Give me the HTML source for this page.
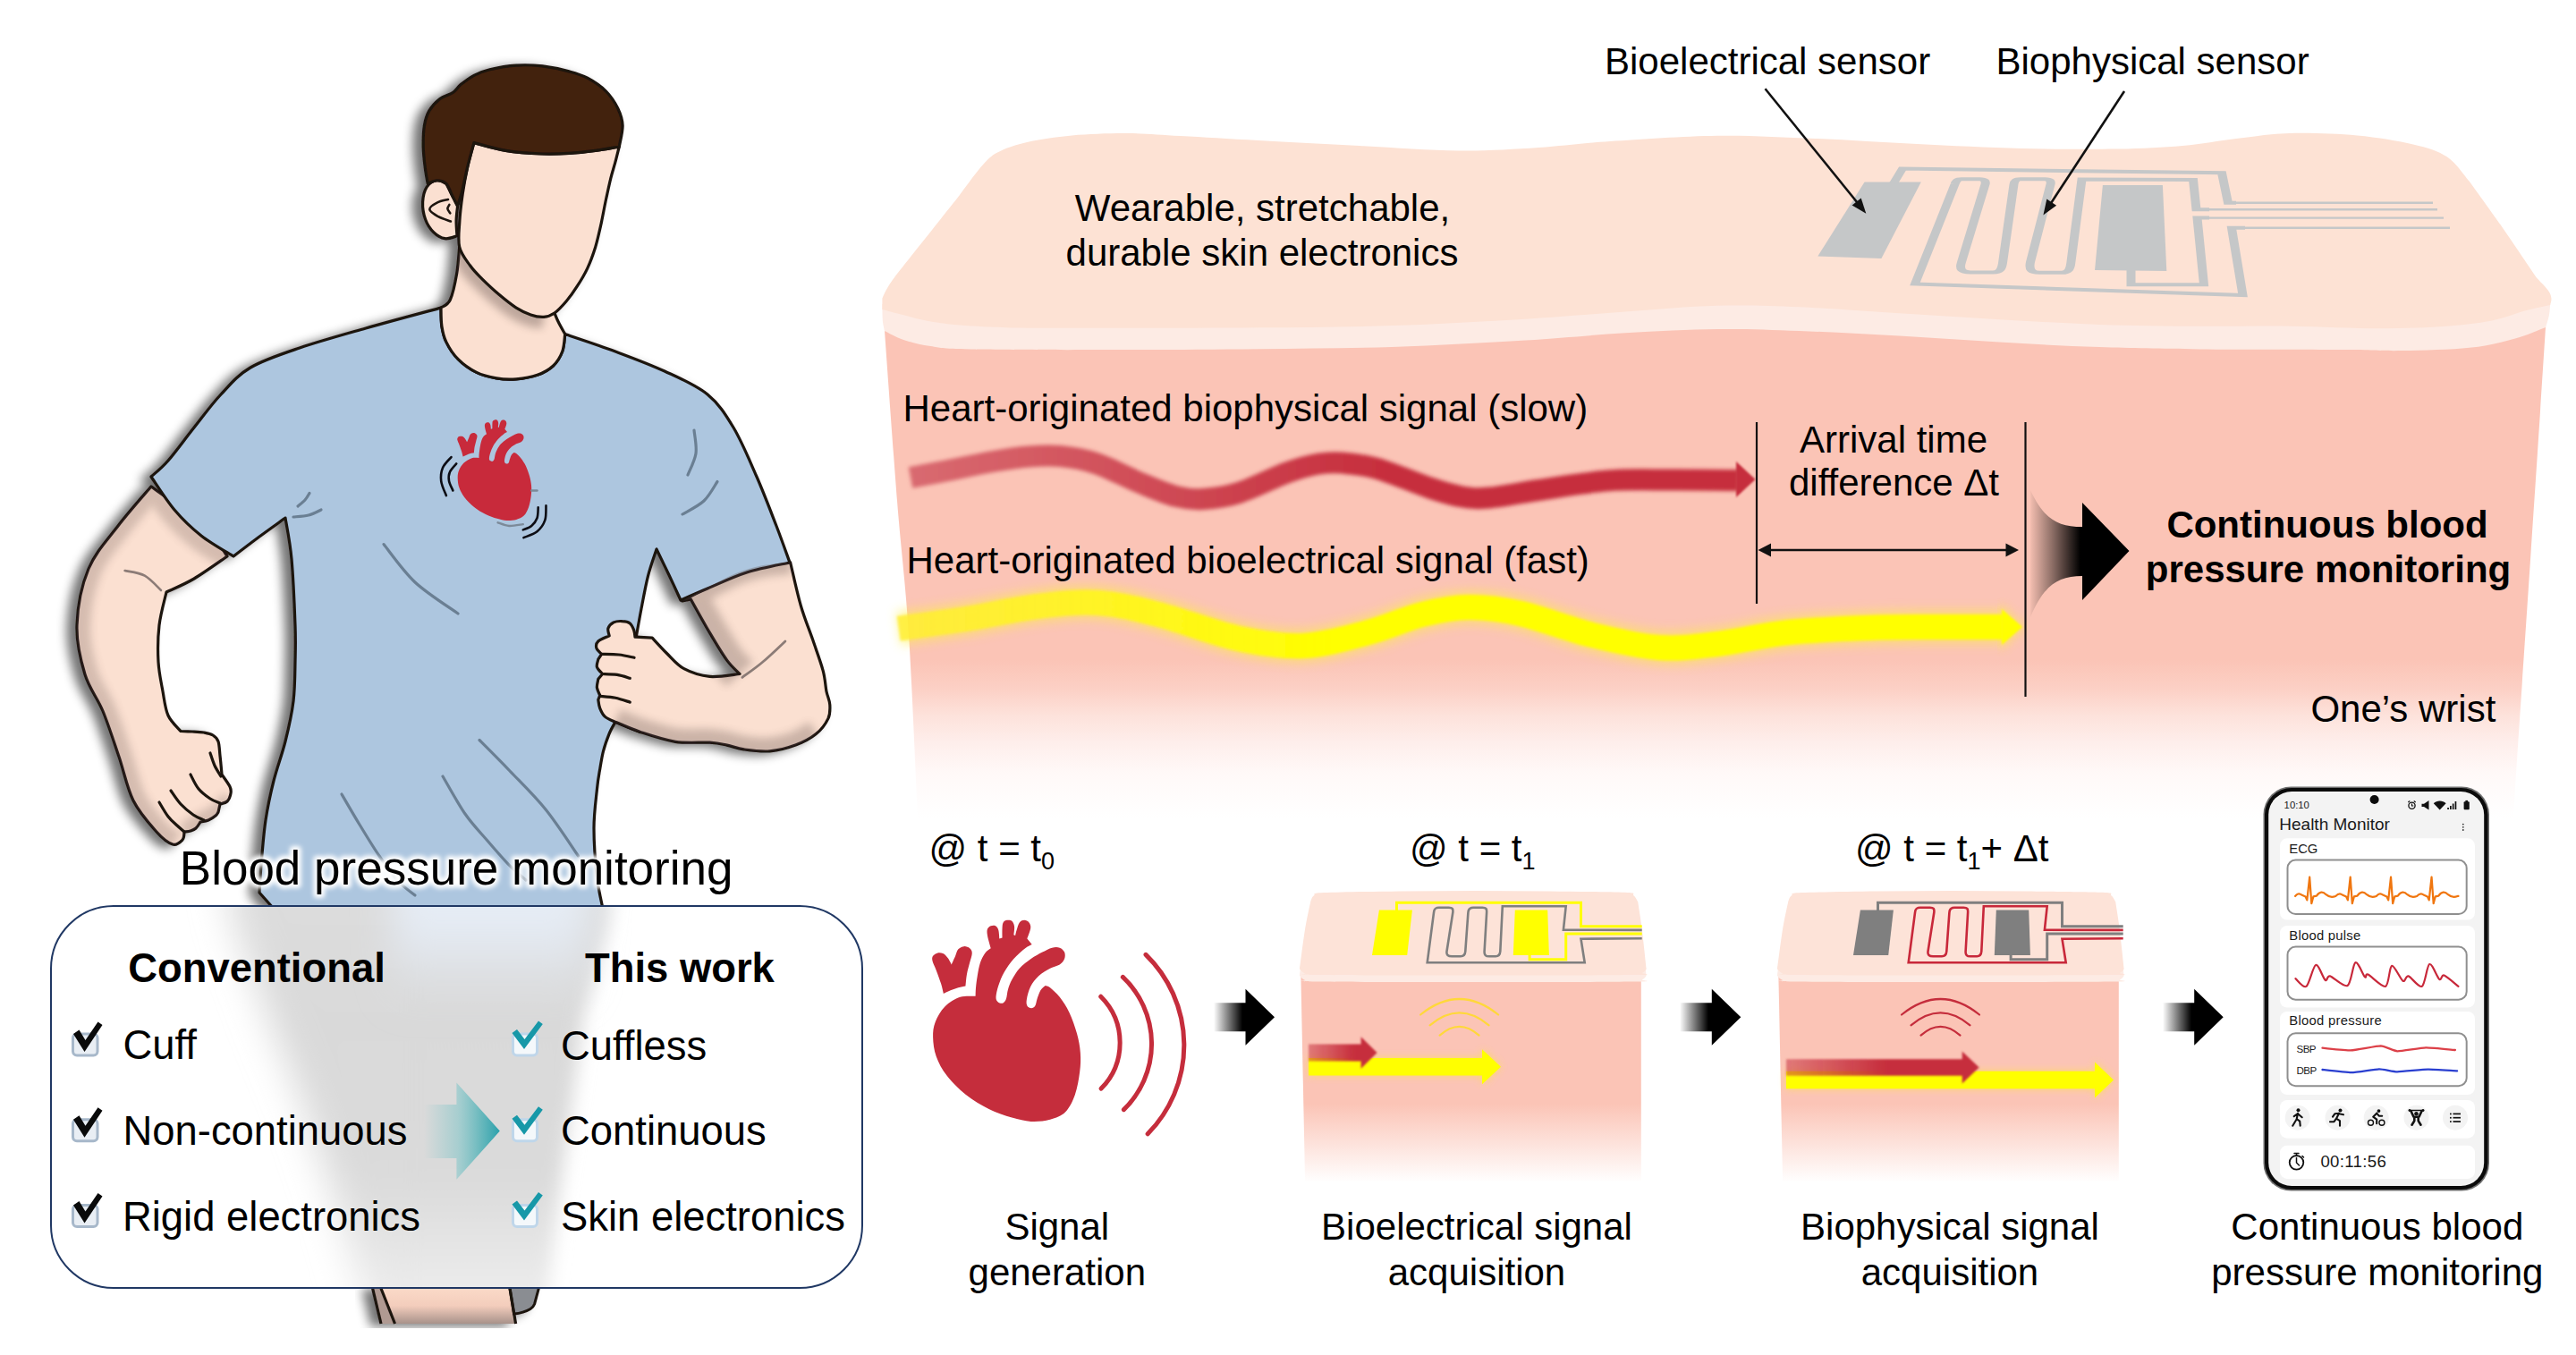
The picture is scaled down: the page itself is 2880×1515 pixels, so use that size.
<!DOCTYPE html>
<html><head><meta charset="utf-8"><title>Continuous blood pressure monitoring</title>
<style>html,body{margin:0;padding:0;background:#fff;overflow:hidden}svg{display:block}text{white-space:pre}</style></head><body>
<svg width="2880" height="1515" viewBox="0 0 2880 1515">
<defs>
<linearGradient id="pinkg" gradientUnits="userSpaceOnUse" x1="0" y1="370" x2="0" y2="915">
<stop offset="0" stop-color="#fbc4b6"/><stop offset="0.675" stop-color="#fbc4b6"/><stop offset="0.734" stop-color="#fcd0c5"/><stop offset="0.789" stop-color="#fde2db"/><stop offset="0.844" stop-color="#feeeeb"/><stop offset="0.908" stop-color="#fff9f8"/><stop offset="1" stop-color="#ffffff"/></linearGradient>
<linearGradient id="mpink" gradientUnits="userSpaceOnUse" x1="0" y1="1091" x2="0" y2="1322">
<stop offset="0" stop-color="#fbc4b6"/><stop offset="0.62" stop-color="#fbc4b6"/><stop offset="1" stop-color="#ffffff"/></linearGradient>
<linearGradient id="redg" gradientUnits="userSpaceOnUse" x1="1018" y1="0" x2="1560" y2="0">
<stop offset="0" stop-color="#d96a70"/><stop offset="1" stop-color="#c62d3c"/></linearGradient>
<linearGradient id="yelg" gradientUnits="userSpaceOnUse" x1="1004" y1="0" x2="1500" y2="0"><stop offset="0" stop-color="#ffee33" stop-opacity="0.85"/><stop offset="1" stop-color="#ffff00"/></linearGradient>
<linearGradient id="blk1" gradientUnits="userSpaceOnUse" x1="2268" y1="0" x2="2336" y2="0">
<stop offset="0" stop-color="#000" stop-opacity="0"/><stop offset="0.4" stop-color="#000" stop-opacity="0.45"/><stop offset="0.85" stop-color="#000" stop-opacity="1"/></linearGradient>
<linearGradient id="ba1" gradientUnits="userSpaceOnUse" x1="1357" y1="0" x2="1389" y2="0"><stop offset="0" stop-color="#000" stop-opacity="0"/><stop offset="1" stop-color="#000"/></linearGradient>
<linearGradient id="ba2" gradientUnits="userSpaceOnUse" x1="1878" y1="0" x2="1910" y2="0"><stop offset="0" stop-color="#000" stop-opacity="0"/><stop offset="1" stop-color="#000"/></linearGradient>
<linearGradient id="ba3" gradientUnits="userSpaceOnUse" x1="2418" y1="0" x2="2450" y2="0"><stop offset="0" stop-color="#000" stop-opacity="0"/><stop offset="1" stop-color="#000"/></linearGradient>
<linearGradient id="mred1" gradientUnits="userSpaceOnUse" x1="1463" y1="0" x2="1515" y2="0"><stop offset="0" stop-color="#c62d3c" stop-opacity="0.5"/><stop offset="1" stop-color="#c62d3c"/></linearGradient>
<linearGradient id="mred2" gradientUnits="userSpaceOnUse" x1="1997" y1="0" x2="2110" y2="0"><stop offset="0" stop-color="#c62d3c" stop-opacity="0.5"/><stop offset="1" stop-color="#c62d3c"/></linearGradient>
<linearGradient id="legg" gradientUnits="userSpaceOnUse" x1="0" y1="1440" x2="0" y2="1480"><stop offset="0" stop-color="#fbdac8"/><stop offset="0.5" stop-color="#f3cdbc"/><stop offset="1" stop-color="#a8928a"/></linearGradient>
<linearGradient id="teal" gradientUnits="userSpaceOnUse" x1="474" y1="0" x2="559" y2="0"><stop offset="0" stop-color="#5bbcc0" stop-opacity="0"/><stop offset="0.45" stop-color="#5bbcc0" stop-opacity="0.4"/><stop offset="0.75" stop-color="#43adb3" stop-opacity="0.75"/><stop offset="1" stop-color="#2aa0ab" stop-opacity="1"/></linearGradient>
<linearGradient id="silg" gradientUnits="userSpaceOnUse" x1="0" y1="1013" x2="0" y2="1440"><stop offset="0" stop-color="#dcdcdc"/><stop offset="0.27" stop-color="#d9d9d9"/><stop offset="0.7" stop-color="#dadada"/><stop offset="1" stop-color="#ebebeb"/></linearGradient>
<linearGradient id="tintg" gradientUnits="userSpaceOnUse" x1="0" y1="1013" x2="0" y2="1125"><stop offset="0" stop-color="#e6edf6" stop-opacity="1"/><stop offset="0.35" stop-color="#e4eaf2" stop-opacity="0.9"/><stop offset="1" stop-color="#dfe3e8" stop-opacity="0"/></linearGradient>
<filter id="b05" x="-10%" y="-100%" width="120%" height="300%"><feGaussianBlur stdDeviation="0.5"/></filter>
<filter id="b1" x="-10%" y="-100%" width="120%" height="300%"><feGaussianBlur stdDeviation="1"/></filter>
<filter id="b15" x="-5%" y="-100%" width="110%" height="300%"><feGaussianBlur stdDeviation="1.5"/></filter>
<filter id="b2" x="-5%" y="-100%" width="110%" height="300%"><feGaussianBlur stdDeviation="2.2"/></filter>
<filter id="b4" x="-20%" y="-100%" width="140%" height="300%"><feGaussianBlur stdDeviation="4"/></filter>
<filter id="b6" x="-10%" y="-100%" width="120%" height="300%"><feGaussianBlur stdDeviation="6"/></filter>
<filter id="b10" x="-50%" y="-50%" width="200%" height="200%"><feGaussianBlur stdDeviation="10"/></filter>
<filter id="b20" x="-50%" y="-50%" width="200%" height="200%"><feGaussianBlur stdDeviation="21"/></filter>
<filter id="sh5" filterUnits="userSpaceOnUse" x="0" y="0" width="1100" height="1100"><feGaussianBlur stdDeviation="5"/></filter>
<filter id="glow" x="-10%" y="-50%" width="120%" height="200%"><feGaussianBlur stdDeviation="2.4"/></filter>
<filter id="mansh" x="-10%" y="-10%" width="120%" height="120%"><feGaussianBlur in="SourceAlpha" stdDeviation="6" result="b"/><feOffset in="b" dx="-10" dy="3" result="o"/><feComponentTransfer in="o" result="s"><feFuncA type="linear" slope="0.55"/></feComponentTransfer><feMerge><feMergeNode in="s"/><feMergeNode in="SourceGraphic"/></feMerge></filter>
<clipPath id="boxclip"><rect x="57" y="1013" width="907" height="427" rx="70"/></clipPath>
<clipPath id="abovebox"><rect x="0" y="0" width="1000" height="1014"/></clipPath>
<clipPath id="belowbox"><rect x="0" y="1440" width="1000" height="80"/></clipPath>
</defs>
<rect width="2880" height="1515" fill="#fff"/>
<g id="skin">
<path d="M988.9,368.5C992.5,370.2 1001.6,375.6 1010.2,378.5C1018.8,381.4 1027.8,383.8 1040.3,385.6C1052.8,387.4 1049.2,388.4 1085.5,389.1C1121.8,389.8 1204.4,389.7 1258,389.6C1311.6,389.5 1357.3,389.2 1407,388.7C1456.7,388.2 1506.2,388.1 1556,386.5C1605.8,384.9 1662,381.6 1705.5,379C1749,376.4 1781.2,372.9 1817,370.8C1852.8,368.7 1887.5,366.9 1920,366.5C1952.5,366.1 1977.9,367.2 2011.8,368.5C2045.7,369.8 2086.3,372 2123.6,374.1C2160.9,376.2 2198.1,379 2235.4,381.1C2272.7,383.2 2309.9,385.3 2347.2,386.6C2384.5,387.9 2413.5,388.4 2459,388.9C2504.5,389.4 2582.2,389.3 2620,389.6C2657.8,389.9 2662,391 2685.5,390.6C2709,390.2 2739.9,389.5 2760.8,387.3C2781.7,385.1 2796.8,381.1 2811,377.3C2825.2,373.5 2840.2,366.8 2846.1,364.7L2846.1,364.7C2845.1,380.6 2842.8,416.4 2840,460C2837.2,503.6 2833.3,561 2829,626C2824.7,691 2817.2,801.8 2814,850C2810.8,898.2 2810.7,904.2 2810,915L2810,915L1026,915L1026,915C1024.3,880.7 1019.8,768.2 1016,709C1012.2,649.8 1007.5,616.8 1003,560C998.5,503.2 991.2,400.4 988.9,368.5Z" fill="url(#pinkg)"/>
<path d="M986.4,340C986.4,341 986.3,342.6 986.4,345.9C986.5,349.2 986.6,356 987,360C987.4,364 988.6,368.3 988.9,370L988.9,370C992.5,371.7 1001.6,377.1 1010.2,380C1018.8,382.9 1027.8,385.3 1040.3,387.1C1052.8,388.9 1049.2,389.9 1085.5,390.6C1121.8,391.3 1204.4,391.2 1258,391.1C1311.6,391 1357.3,390.7 1407,390.2C1456.7,389.7 1506.2,389.6 1556,388C1605.8,386.4 1662,383.1 1705.5,380.5C1749,377.9 1781.2,374.4 1817,372.3C1852.8,370.2 1887.5,368.4 1920,368C1952.5,367.6 1977.9,368.7 2011.8,370C2045.7,371.3 2086.3,373.5 2123.6,375.6C2160.9,377.7 2198.1,380.5 2235.4,382.6C2272.7,384.7 2309.9,386.8 2347.2,388.1C2384.5,389.4 2413.5,389.9 2459,390.4C2504.5,390.9 2582.2,390.8 2620,391.1C2657.8,391.4 2662,392.5 2685.5,392.1C2709,391.7 2739.9,391 2760.8,388.8C2781.7,386.6 2796.8,382.6 2811,378.8C2825.2,375 2840.2,368.1 2846.1,366L2846.1,366C2846.8,363.7 2849.2,356.3 2850,352C2850.8,347.7 2851,342 2851.2,340L2851.2,340L986.4,340Z" fill="#fdebe4"/>
<path d="M986.4,345.9L986.4,333.4L986.4,333.4C988.3,330 989.6,324.6 997.7,313.3C1005.9,302 1022.8,281.5 1035.3,265.6C1047.8,249.7 1066.7,225.9 1073,217.9L1073,217.9C1077.2,212.5 1090.9,193.2 1098,185.3C1105.1,177.4 1107.2,174.6 1115.6,170.2C1124,165.8 1134.5,162 1148.3,158.9C1162.1,155.8 1179.9,153.1 1198.5,151.4C1217.1,149.8 1239.8,148.9 1260,149C1280.2,149.1 1295.5,150.7 1320,152C1344.5,153.3 1373.7,155.2 1407,157C1440.3,158.8 1482.7,161.1 1520,163C1557.3,164.9 1597.7,168.2 1631,168.5C1664.3,168.8 1691.8,166.8 1720,165C1748.2,163.2 1766.7,160.2 1800,158C1833.3,155.8 1881.7,152.2 1920,151.7C1958.3,151.2 1992.7,153.4 2030,155C2067.3,156.6 2105.3,159.2 2143.6,161C2181.9,162.8 2222.8,165.1 2260,166C2297.2,166.9 2337,167.1 2367,166.6C2397,166.1 2417.8,164.9 2440,163C2462.2,161.1 2480,157.3 2500,155C2520,152.7 2537.4,149.5 2560,148.9C2582.6,148.3 2612.3,149.3 2635.3,151.4C2658.3,153.5 2681.3,157.4 2698,161.4C2714.7,165.4 2725.2,168.3 2735.7,175.2C2746.2,182.1 2756.6,198.2 2760.8,202.8L2760.8,202.8C2767.1,211.6 2785.9,237.5 2798.5,255.5C2811.1,273.5 2829.8,301.6 2836.1,310.8L2836.1,310.8C2838.2,313.1 2846,320.8 2848.7,324.6C2851.4,328.4 2852,330.7 2852.4,333.4C2852.8,336.1 2851.4,339.6 2851.2,340.9L2851.2,340.9C2846.6,341.9 2834.5,344.3 2823.6,347.2C2812.7,350.1 2800.6,355.6 2785.9,358.5C2771.2,361.4 2756.6,363.2 2735.7,364.7C2714.8,366.1 2689.7,367.2 2660.4,367.2C2631.1,367.2 2593.6,365.1 2560,364.7C2526.4,364.3 2494.5,365.1 2459,364.8C2423.5,364.5 2384.5,364.1 2347.2,362.9C2309.9,361.6 2272.7,359.4 2235.4,357.3C2198.1,355.2 2160.9,352.6 2123.6,350.3C2086.3,348 2045.7,344.7 2011.8,343.3C1977.9,341.9 1952.5,340.9 1920,341.8C1887.5,342.7 1852.8,346 1817,348.5C1781.2,351 1749,354.1 1705.5,356.7C1662,359.3 1605.8,362.5 1556,364.1C1506.2,365.7 1456.7,365.9 1407,366.3C1357.3,366.8 1303.2,366.8 1258,366.8C1212.8,366.8 1166.5,367.1 1135.7,366.5C1104.9,365.9 1089.7,364.8 1073,363.5C1056.3,362.2 1045.8,360.4 1035.3,358.5C1024.8,356.6 1018.4,354.3 1010.2,352.2C1002.1,350.1 990.4,346.9 986.4,345.9Z" fill="#fde2d4"/>
<g transform="scale(1,0.4)"><path d="M2084.6,508.8L2147.8,508.8L2103.4,722.2L2032.3,716.2Z" fill="#c5c7c8"/>
<path d="M2350.9,517.8L2417.9,517.8L2422.3,757.5L2342,755Z" fill="#c5c7c8"/>
<path d="M2117,512.5L2127,471.5L2484,483.2L2491,567L2500,567" fill="none" stroke="#c5c7c8" stroke-width="10" stroke-linejoin="miter" stroke-miterlimit="6"/>
<path d="M2496,567L2720,567" fill="none" stroke="#c5c7c8" stroke-width="6" stroke-linejoin="miter" stroke-miterlimit="6"/>
<path d="M2382.5,750L2382.5,795.5L2464,795.5L2456.5,609L2470,609" fill="none" stroke="#c5c7c8" stroke-width="10" stroke-linejoin="miter" stroke-miterlimit="6"/>
<path d="M2466,609L2732,609" fill="none" stroke="#c5c7c8" stroke-width="6" stroke-linejoin="miter" stroke-miterlimit="6"/>
<path d="M2506,637L2739,637" fill="none" stroke="#c5c7c8" stroke-width="6" stroke-linejoin="miter" stroke-miterlimit="6"/>
<path d="M2466,585.8L2725,585.8" fill="none" stroke="#c5c7c8" stroke-width="6" stroke-linejoin="miter" stroke-miterlimit="6"/>
<path d="M2510,637L2495,637L2507.5,825L2141,793.8L2185.5,515C2187,503.8 2189,500.8 2193,500.8L2213,500.8C2218.5,500.8 2220.5,505 2219.5,515L2193,732.5C2190,755 2194,761.2 2203,761.2L2228,761.2C2236,761.2 2238,752.5 2239,735L2251.5,515C2252.3,503.8 2254.5,500.8 2259,500.8L2286,500.8C2291.5,500.8 2293.5,505 2292.5,515L2270,732.5C2268,755 2271.5,762 2280,762L2305,762C2312.5,762 2314.5,752.5 2315.3,735L2327.5,501.5L2452,502.5L2455.5,585.8L2470,585.8" fill="none" stroke="#c5c7c8" stroke-width="10" stroke-linejoin="miter" stroke-miterlimit="6"/></g>
<path d="M1018,534C1025,532.7 1044.7,529 1060,526C1075.3,523 1095,518.6 1110,516C1125,513.4 1137.5,511.5 1150,510.5C1162.5,509.5 1172.5,508.8 1185,510C1197.5,511.2 1210,513 1225,518C1240,523 1260,533.8 1275,540C1290,546.2 1303.3,552 1315,555C1326.7,558 1333.3,558.7 1345,558C1356.7,557.3 1369.2,556 1385,551C1400.8,546 1425,533.4 1440,528C1455,522.6 1465,520.2 1475,518.5C1485,516.8 1489.2,516.6 1500,517.5C1510.8,518.4 1523.3,519.2 1540,524C1556.7,528.8 1584.2,540.8 1600,546C1615.8,551.2 1624.2,553.8 1635,555.5C1645.8,557.2 1650.8,557.8 1665,556.5C1679.2,555.2 1697.8,551.2 1720,548C1742.2,544.8 1773,539.3 1798,537.4C1823,535.5 1845.7,536.6 1870,536.5C1894.3,536.4 1931.7,536.9 1944,537" fill="none" stroke="url(#redg)" stroke-width="24" stroke-linejoin="round" filter="url(#b2)"/>
<path d="M1941,516L1962.5,536L1941,556Z" fill="#c62d3c" filter="url(#b1)"/>
<path d="M1004.7,702.6C1017.2,700.8 1054.1,696.1 1080,692C1105.9,687.9 1135.3,681 1160,678C1184.7,675 1205.5,672.5 1228,674C1250.5,675.5 1268.8,680.3 1295,687C1321.2,693.7 1357.8,708.2 1385,714C1412.2,719.8 1433.8,723.2 1458,722C1482.2,720.8 1508,712.8 1530,707C1552,701.2 1571.3,691.7 1590,687C1608.7,682.3 1623.7,679.2 1642,679C1660.3,678.8 1677,680.8 1700,686C1723,691.2 1754.2,703.7 1780,710C1805.8,716.3 1831.2,722.3 1854.5,724C1877.8,725.7 1895.8,722.8 1920,720C1944.2,717.2 1970,710.1 2000,707C2030,703.9 2070,702.5 2100,701.5C2130,700.5 2156.7,701.1 2180,701C2203.3,700.9 2230,701 2240,701" fill="none" stroke="#ffef40" stroke-width="38" opacity="0.5" filter="url(#b6)"/>
<path d="M2236,676L2264,701L2236,726Z" fill="#ffef40" opacity="0.6" filter="url(#b6)"/>
<path d="M1004.7,702.6C1017.2,700.8 1054.1,696.1 1080,692C1105.9,687.9 1135.3,681 1160,678C1184.7,675 1205.5,672.5 1228,674C1250.5,675.5 1268.8,680.3 1295,687C1321.2,693.7 1357.8,708.2 1385,714C1412.2,719.8 1433.8,723.2 1458,722C1482.2,720.8 1508,712.8 1530,707C1552,701.2 1571.3,691.7 1590,687C1608.7,682.3 1623.7,679.2 1642,679C1660.3,678.8 1677,680.8 1700,686C1723,691.2 1754.2,703.7 1780,710C1805.8,716.3 1831.2,722.3 1854.5,724C1877.8,725.7 1895.8,722.8 1920,720C1944.2,717.2 1970,710.1 2000,707C2030,703.9 2070,702.5 2100,701.5C2130,700.5 2156.7,701.1 2180,701C2203.3,700.9 2230,701 2240,701" fill="none" stroke="url(#yelg)" stroke-width="28" filter="url(#b15)"/>
<path d="M2238,681L2261,701L2238,721Z" fill="#ffff00" filter="url(#b1)"/>
<path d="M1964,472V675" stroke="#111" stroke-width="2.2"/>
<path d="M2264.5,472V779" stroke="#111" stroke-width="2.2"/>
<path d="M1975,615H2247" stroke="#111" stroke-width="2.4"/>
<path d="M1965.5,615L1980,607.5V622.5Z" fill="#111"/>
<path d="M2257,615L2242.5,607.5V622.5Z" fill="#111"/>
<path d="M2270,548C2285,580 2300,589 2328,589L2328,562L2380.5,616L2328,671L2328,644C2300,644 2285,655 2270,690Z" fill="url(#blk1)"/>
<path d="M1973.5,99.3L2076.9,227" stroke="#111" stroke-width="2.6"/><path d="M2086.3,238.7L2070.6,229.6L2080.7,221.4Z" fill="#111"/>
<path d="M2375,102L2292.6,227.8" stroke="#111" stroke-width="2.6"/><path d="M2284.4,240.4L2288.3,222.6L2299.1,229.7Z" fill="#111"/>
</g>
<g clip-path="url(#abovebox)"><g filter="url(#mansh)">
<path d="M254,622C250,616.7 244.2,603 230,590C215.8,577 179.2,551.7 169,544L169,544C162.8,551.3 143.7,572.7 132,588C120.3,603.3 106.7,617.5 99,636C91.3,654.5 86.7,679.3 86,699C85.3,718.7 90.2,738 95,754C99.8,770 108.7,779.7 115,795C121.3,810.3 127.3,829.3 133,846C138.7,862.7 142,881 149,895C156,909 167.7,921.8 175,930C182.3,938.2 188.2,942.5 193,944C197.8,945.5 201.8,941.3 204,939C206.2,936.7 205.7,931.5 206,930L206,930C207.2,929.8 210.8,929.7 213,929C215.2,928.3 217.2,927.7 219,926C220.8,924.3 223.2,920.2 224,919L224,919C225.5,918.7 230.2,918.2 233,917C235.8,915.8 239.2,913.5 241,912C242.8,910.5 243.5,908.7 244,908L244,908L246,899L246,899C247.3,898.5 252,898 254,896C256,894 257.5,889.8 258,887C258.5,884.2 258.7,883 257,879.5C255.3,876 249.5,868.2 248,866L248,866C247.7,862.5 246.7,851.2 246,845C245.3,838.8 245.3,832.8 244,829C242.7,825.2 240.7,823.7 238,822C235.3,820.3 231.8,819.7 228,819C224.2,818.3 219.3,818.2 215,818C210.7,817.8 204.2,817.6 202,817.5L202,817.5C199.7,814.6 191.3,807.4 188,800C184.7,792.6 183.8,783 182,773C180.2,763 177.7,752.3 177,740C176.3,727.7 176.5,712 178,699C179.5,686 184.7,668.2 186,662L186,662C191.2,659.5 205.7,653.7 217,647C228.3,640.3 247.8,626.2 254,622Z" fill="#fbe0d1" stroke="#1c1210" stroke-width="3.2" stroke-linejoin="round"/>
<clipPath id="clipLarm"><path d="M254,622C250,616.7 244.2,603 230,590C215.8,577 179.2,551.7 169,544L169,544C162.8,551.3 143.7,572.7 132,588C120.3,603.3 106.7,617.5 99,636C91.3,654.5 86.7,679.3 86,699C85.3,718.7 90.2,738 95,754C99.8,770 108.7,779.7 115,795C121.3,810.3 127.3,829.3 133,846C138.7,862.7 142,881 149,895C156,909 167.7,921.8 175,930C182.3,938.2 188.2,942.5 193,944C197.8,945.5 201.8,941.3 204,939C206.2,936.7 205.7,931.5 206,930L206,930C207.2,929.8 210.8,929.7 213,929C215.2,928.3 217.2,927.7 219,926C220.8,924.3 223.2,920.2 224,919L224,919C225.5,918.7 230.2,918.2 233,917C235.8,915.8 239.2,913.5 241,912C242.8,910.5 243.5,908.7 244,908L244,908L246,899L246,899C247.3,898.5 252,898 254,896C256,894 257.5,889.8 258,887C258.5,884.2 258.7,883 257,879.5C255.3,876 249.5,868.2 248,866L248,866C247.7,862.5 246.7,851.2 246,845C245.3,838.8 245.3,832.8 244,829C242.7,825.2 240.7,823.7 238,822C235.3,820.3 231.8,819.7 228,819C224.2,818.3 219.3,818.2 215,818C210.7,817.8 204.2,817.6 202,817.5L202,817.5C199.7,814.6 191.3,807.4 188,800C184.7,792.6 183.8,783 182,773C180.2,763 177.7,752.3 177,740C176.3,727.7 176.5,712 178,699C179.5,686 184.7,668.2 186,662L186,662C191.2,659.5 205.7,653.7 217,647C228.3,640.3 247.8,626.2 254,622Z"/></clipPath>
<g clip-path="url(#clipLarm)" opacity="0.24">
<path d="M261,622C255,618.2 236,607.7 225,599C214,590.3 204.3,581 195,570C185.7,559 173.3,539.2 169,533" fill="none" stroke="#5e4d48" stroke-width="34" filter="url(#sh5)"/>
<path d="M169,544C162.8,551.3 143.7,572.7 132,588C120.3,603.3 106.7,617.5 99,636C91.3,654.5 86.7,679.3 86,699C85.3,718.7 90.2,738 95,754C99.8,770 108.7,779.7 115,795C121.3,810.3 127.3,829.3 133,846C138.7,862.7 142,881 149,895C156,909 167.7,921.8 175,930C182.3,938.2 190,941.7 193,944" fill="none" stroke="#5e4d48" stroke-width="30" filter="url(#sh5)"/>
<path d="M206,930C209,928.2 217.7,922.7 224,919C230.3,915.3 238.5,912.3 244,908C249.5,903.7 254.8,895.5 257,893" fill="none" stroke="#5e4d48" stroke-width="20" filter="url(#sh5)"/>
</g>
<path d="M235,842C235.8,844.3 238,851.7 240,856C242,860.3 245.8,866 247,868" fill="none" stroke="#1c1210" stroke-width="3.2" stroke-linecap="round"/>
<path d="M213,866C214.5,868.7 218.3,877.5 222,882C225.7,886.5 231,890.3 235,893C239,895.7 244.2,897.2 246,898" fill="none" stroke="#1c1210" stroke-width="3.2" stroke-linecap="round"/>
<path d="M191,884C192.8,886.5 197.8,894.5 202,899C206.2,903.5 211.7,908 216,911C220.3,914 226,916 228,917" fill="none" stroke="#1c1210" stroke-width="3.2" stroke-linecap="round"/>
<path d="M178,897C179.7,899.7 184.7,908.7 188,913C191.3,917.3 195,920.2 198,923C201,925.8 204.7,928.8 206,930" fill="none" stroke="#1c1210" stroke-width="3.2" stroke-linecap="round"/>
<path d="M139.6,638C143.3,639 155.1,640 161.8,643.7C168.5,647.4 177,657.3 180,660" fill="none" stroke="#8c7c77" stroke-width="2.6" stroke-linecap="round"/>
<path d="M762.8,671.9C767.9,669.2 783.6,660.8 793.5,655.6C803.4,650.5 812.7,645.1 822.3,641.2C831.8,637.4 840.8,634.7 851,632.6C861.3,630.5 878.2,629.4 883.6,628.8L883.6,628.8C885.6,636.8 891,662.4 895.2,676.7C899.3,691.1 904.4,703 908.6,715.1C912.7,727.3 917.5,740 920.1,749.6C922.7,759.2 922.7,766.3 923.9,772.7C925.2,779.1 927.5,782.9 927.8,788C928.1,793.1 928.4,797.9 925.9,803.4C923.3,808.8 918.5,815.7 912.4,820.6C906.3,825.6 898,829.9 889.4,833.1C880.8,836.3 870.2,839 860.6,839.8C851,840.6 839.8,839 831.8,837.9C823.9,836.8 819.1,834.4 812.7,833.1C806.3,831.8 803.1,830.9 793.5,830.2C783.9,829.6 767.9,831.2 755.1,829.3C742.3,827.3 727.9,822.4 716.7,818.7C705.5,815 692.8,809.1 688,807.2L688,807.2C686,806.2 679.3,804 676.5,801.4C673.6,798.9 672,795 670.7,791.8C669.4,788.6 669.1,783.9 668.8,782.3L668.8,782.3L670.7,777.5L670.7,777.5C670.2,776 667.8,771.9 667.4,768.8C667.1,765.8 668.6,760.8 668.8,759.2L668.8,759.2L673.6,753.5L673.6,753.5C672.5,752.2 668.2,748.5 667.4,745.8C666.6,743.1 668.6,738.6 668.8,737.2L668.8,737.2L672.6,731.4L672.6,731.4C671.7,730.3 667.5,727.1 666.9,724.7C666.2,722.3 666.4,719.3 668.8,717C671.2,714.7 679.2,711.9 681.2,710.9L681.2,710.9C681,709.5 679.1,705.1 679.9,702.6C680.7,700.1 683.4,697.3 686,695.9C688.7,694.6 692.6,694.4 695.6,694.6C698.7,694.7 702.1,695.2 704.3,696.9C706.4,698.5 707.7,702 708.7,704.6C709.6,707.1 709.8,711 710,712.2L710,712.2L729.2,713.2L729.2,713.2C731.9,716.1 739.6,724.7 745.5,730.5C751.4,736.2 756.7,743.4 764.7,747.7C772.7,752 783.1,755.4 793.5,756.4C803.9,757.3 821.5,754 827.1,753.5L827.1,753.5C824.7,750.9 818.3,745.8 812.7,738.1C807.1,730.5 800.2,718.8 793.5,707.4C786.8,696.1 775.9,676.3 772.4,670L772.4,670L762.8,671.9Z" fill="#fbe0d1" stroke="#1c1210" stroke-width="3.2" stroke-linejoin="round"/>
<path d="M877.9,717C873.7,720.9 860.9,733.3 852.9,740C845,746.8 833.8,754.4 829.9,757.3" fill="none" stroke="#8c7c77" stroke-width="2.8" stroke-linecap="round"/>
<path d="M493,344.1C493.1,347.5 492.9,358.3 493.9,364.7C494.9,371.1 495.8,376.3 498.9,382.4C501.9,388.6 506.5,396 512.2,401.6C517.8,407.3 525.7,412.8 532.8,416.4C540,419.9 547.6,421.6 555,422.9C562.4,424.1 569.5,424.4 577.1,423.8C584.7,423.2 593.8,421.8 600.7,419.3C607.6,416.9 613.8,413.4 618.5,409C623.1,404.6 626.6,398.7 628.8,392.8C631,386.9 631.2,376.8 631.7,373.6L631.7,373.6C641.1,376.8 669.5,386.1 688,393C706.5,399.9 725.8,407 743,415C760.2,423 778.2,430.5 791,441C803.8,451.5 810.8,462.7 820,478C829.2,493.3 838,514.7 846,533C854,551.3 861.8,572 868,588C874.2,604 880.5,622.2 883,629L883,629C875,630.8 850.3,635.2 835,640C819.7,644.8 803.3,652.8 791,658C778.7,663.2 766,668.8 761,671L761,671C758.8,666.3 752.5,652.5 748,643C743.5,633.5 736.3,618.8 734,614L734,614C732.4,619 727.3,632.9 724.5,644C721.7,655.1 719.1,669.5 717,680.5C714.9,691.5 712.5,705.1 711.6,710L711.6,710C709.7,718.3 703.9,743.8 700,760C696.1,776.2 690,799.2 688,807L688,807C686.8,809.3 683.2,815.1 681,820.6C678.8,826.1 676.2,833.2 674.5,839.8C672.8,846.4 671.9,853 670.7,860C669.5,867 668.6,871 667.5,882C666.4,893 664,909.5 664,926C664,942.5 665.8,966 667.5,981C669.2,996 672.9,1010.2 674,1016L674,1016L306,1016L306,1016L290,998L290,998C290.4,991.8 291.3,974.5 292.5,961C293.7,947.5 294.8,931.7 297,917C299.2,902.3 302.3,887.7 306,873C309.7,858.3 315.3,843.8 319,829C322.7,814.2 326.2,798.8 328,784C329.8,769.2 329.7,754.2 330,740C330.3,725.8 330.7,718.2 330,699C329.3,679.8 327.8,645 326,625C324.2,605 320.2,586.7 319,579L319,579C314.2,582.5 299.7,592.8 290,600C280.3,607.2 265.8,618.3 261,622L261,622C255,618.2 236,607.7 225,599C214,590.3 204.3,581 195,570C185.7,559 173.3,539.2 169,533L169,533C172.2,530 180,524.2 188,515C196,505.8 207.2,490.3 217,478C226.8,465.7 236.5,452.2 247,441C257.5,429.8 265.3,419.7 280,411C294.7,402.3 313.5,396.3 335,389C356.5,381.7 382.7,374.5 409,367C435.3,359.5 479,347.9 493,344.1Z" fill="#adc6df" stroke="#1c1210" stroke-width="3.2" stroke-linejoin="round"/>
<path d="M513.7,276.2C513.2,281.1 512.4,295.8 510.7,305.7C509,315.5 506.3,328.8 503.3,335.2C500.4,341.6 494.7,342.6 493,344.1L493,344.1C493.1,347.5 492.9,358.3 493.9,364.7C494.9,371.1 495.8,376.3 498.9,382.4C501.9,388.6 506.5,396 512.2,401.6C517.8,407.3 525.7,412.8 532.8,416.4C540,419.9 547.6,421.6 555,422.9C562.4,424.1 569.5,424.4 577.1,423.8C584.7,423.2 593.8,421.8 600.7,419.3C607.6,416.9 613.8,413.4 618.5,409C623.1,404.6 626.6,398.7 628.8,392.8C631,386.9 631.2,376.8 631.7,373.6L631.7,373.6C630.5,371.4 626.3,364.2 624.4,360.3C622.4,356.4 620.7,351.7 619.9,350L619.9,350C612.8,342.6 594.8,318 577.1,305.7C559.4,293.4 524.2,281.1 513.7,276.2Z" fill="#fbe0d1" stroke="#1c1210" stroke-width="3.2" stroke-linejoin="round"/>
<clipPath id="clipNeck"><path d="M513.7,276.2C513.2,281.1 512.4,295.8 510.7,305.7C509,315.5 506.3,328.8 503.3,335.2C500.4,341.6 494.7,342.6 493,344.1L493,344.1C493.1,347.5 492.9,358.3 493.9,364.7C494.9,371.1 495.8,376.3 498.9,382.4C501.9,388.6 506.5,396 512.2,401.6C517.8,407.3 525.7,412.8 532.8,416.4C540,419.9 547.6,421.6 555,422.9C562.4,424.1 569.5,424.4 577.1,423.8C584.7,423.2 593.8,421.8 600.7,419.3C607.6,416.9 613.8,413.4 618.5,409C623.1,404.6 626.6,398.7 628.8,392.8C631,386.9 631.2,376.8 631.7,373.6L631.7,373.6C630.5,371.4 626.3,364.2 624.4,360.3C622.4,356.4 620.7,351.7 619.9,350L619.9,350C612.8,342.6 594.8,318 577.1,305.7C559.4,293.4 524.2,281.1 513.7,276.2Z"/></clipPath>
<g clip-path="url(#clipNeck)" opacity="0.38">
<path d="M513.7,276.2C515.6,279.6 521.3,290.9 525.5,296.8C529.6,302.7 533.3,306.2 538.7,311.6C544.2,317 551.5,323.9 557.9,329.3C564.3,334.7 571.2,340.3 577.1,344.1C583,347.8 588.2,350.3 593.4,352C598.5,353.8 605.7,354 608.1,354.4" fill="none" stroke="#5e4d48" stroke-width="26" filter="url(#sh5)"/>
</g>
<clipPath id="fistclip"><rect x="655" y="688" width="61" height="135"/></clipPath>
<path d="M762.8,671.9C767.9,669.2 783.6,660.8 793.5,655.6C803.4,650.5 812.7,645.1 822.3,641.2C831.8,637.4 840.8,634.7 851,632.6C861.3,630.5 878.2,629.4 883.6,628.8L883.6,628.8C885.6,636.8 891,662.4 895.2,676.7C899.3,691.1 904.4,703 908.6,715.1C912.7,727.3 917.5,740 920.1,749.6C922.7,759.2 922.7,766.3 923.9,772.7C925.2,779.1 927.5,782.9 927.8,788C928.1,793.1 928.4,797.9 925.9,803.4C923.3,808.8 918.5,815.7 912.4,820.6C906.3,825.6 898,829.9 889.4,833.1C880.8,836.3 870.2,839 860.6,839.8C851,840.6 839.8,839 831.8,837.9C823.9,836.8 819.1,834.4 812.7,833.1C806.3,831.8 803.1,830.9 793.5,830.2C783.9,829.6 767.9,831.2 755.1,829.3C742.3,827.3 727.9,822.4 716.7,818.7C705.5,815 692.8,809.1 688,807.2L688,807.2C686,806.2 679.3,804 676.5,801.4C673.6,798.9 672,795 670.7,791.8C669.4,788.6 669.1,783.9 668.8,782.3L668.8,782.3L670.7,777.5L670.7,777.5C670.2,776 667.8,771.9 667.4,768.8C667.1,765.8 668.6,760.8 668.8,759.2L668.8,759.2L673.6,753.5L673.6,753.5C672.5,752.2 668.2,748.5 667.4,745.8C666.6,743.1 668.6,738.6 668.8,737.2L668.8,737.2L672.6,731.4L672.6,731.4C671.7,730.3 667.5,727.1 666.9,724.7C666.2,722.3 666.4,719.3 668.8,717C671.2,714.7 679.2,711.9 681.2,710.9L681.2,710.9C681,709.5 679.1,705.1 679.9,702.6C680.7,700.1 683.4,697.3 686,695.9C688.7,694.6 692.6,694.4 695.6,694.6C698.7,694.7 702.1,695.2 704.3,696.9C706.4,698.5 707.7,702 708.7,704.6C709.6,707.1 709.8,711 710,712.2L710,712.2L729.2,713.2L729.2,713.2C731.9,716.1 739.6,724.7 745.5,730.5C751.4,736.2 756.7,743.4 764.7,747.7C772.7,752 783.1,755.4 793.5,756.4C803.9,757.3 821.5,754 827.1,753.5L827.1,753.5C824.7,750.9 818.3,745.8 812.7,738.1C807.1,730.5 800.2,718.8 793.5,707.4C786.8,696.1 775.9,676.3 772.4,670L772.4,670L762.8,671.9Z" fill="#fbe0d1" stroke="#1c1210" stroke-width="3.2" stroke-linejoin="round" clip-path="url(#fistclip)"/>
<clipPath id="clipRarm"><path d="M762.8,671.9C767.9,669.2 783.6,660.8 793.5,655.6C803.4,650.5 812.7,645.1 822.3,641.2C831.8,637.4 840.8,634.7 851,632.6C861.3,630.5 878.2,629.4 883.6,628.8L883.6,628.8C885.6,636.8 891,662.4 895.2,676.7C899.3,691.1 904.4,703 908.6,715.1C912.7,727.3 917.5,740 920.1,749.6C922.7,759.2 922.7,766.3 923.9,772.7C925.2,779.1 927.5,782.9 927.8,788C928.1,793.1 928.4,797.9 925.9,803.4C923.3,808.8 918.5,815.7 912.4,820.6C906.3,825.6 898,829.9 889.4,833.1C880.8,836.3 870.2,839 860.6,839.8C851,840.6 839.8,839 831.8,837.9C823.9,836.8 819.1,834.4 812.7,833.1C806.3,831.8 803.1,830.9 793.5,830.2C783.9,829.6 767.9,831.2 755.1,829.3C742.3,827.3 727.9,822.4 716.7,818.7C705.5,815 692.8,809.1 688,807.2L688,807.2C686,806.2 679.3,804 676.5,801.4C673.6,798.9 672,795 670.7,791.8C669.4,788.6 669.1,783.9 668.8,782.3L668.8,782.3L670.7,777.5L670.7,777.5C670.2,776 667.8,771.9 667.4,768.8C667.1,765.8 668.6,760.8 668.8,759.2L668.8,759.2L673.6,753.5L673.6,753.5C672.5,752.2 668.2,748.5 667.4,745.8C666.6,743.1 668.6,738.6 668.8,737.2L668.8,737.2L672.6,731.4L672.6,731.4C671.7,730.3 667.5,727.1 666.9,724.7C666.2,722.3 666.4,719.3 668.8,717C671.2,714.7 679.2,711.9 681.2,710.9L681.2,710.9C681,709.5 679.1,705.1 679.9,702.6C680.7,700.1 683.4,697.3 686,695.9C688.7,694.6 692.6,694.4 695.6,694.6C698.7,694.7 702.1,695.2 704.3,696.9C706.4,698.5 707.7,702 708.7,704.6C709.6,707.1 709.8,711 710,712.2L710,712.2L729.2,713.2L729.2,713.2C731.9,716.1 739.6,724.7 745.5,730.5C751.4,736.2 756.7,743.4 764.7,747.7C772.7,752 783.1,755.4 793.5,756.4C803.9,757.3 821.5,754 827.1,753.5L827.1,753.5C824.7,750.9 818.3,745.8 812.7,738.1C807.1,730.5 800.2,718.8 793.5,707.4C786.8,696.1 775.9,676.3 772.4,670L772.4,670L762.8,671.9Z"/></clipPath>
<g clip-path="url(#clipRarm)" opacity="0.3">
<path d="M827.1,753.5C824.7,750.9 818.3,745.8 812.7,738.1C807.1,730.5 800.2,718.8 793.5,707.4C786.8,696.1 775.9,676.3 772.4,670" fill="none" stroke="#5e4d48" stroke-width="40" filter="url(#sh5)"/>
<path d="M762.8,671.9C767.9,669.2 783.6,660.8 793.5,655.6C803.4,650.5 812.7,645.1 822.3,641.2C831.8,637.4 840.8,634.7 851,632.6C861.3,630.5 878.2,629.4 883.6,628.8" fill="none" stroke="#5e4d48" stroke-width="26" filter="url(#sh5)"/>
<path d="M912.4,820.6C908.6,822.7 898,829.9 889.4,833.1C880.8,836.3 870.2,839 860.6,839.8C851,840.6 839.8,839 831.8,837.9C823.9,836.8 819.1,834.4 812.7,833.1C806.3,831.8 803.1,830.9 793.5,830.2C783.9,829.6 767.9,831.2 755.1,829.3C742.3,827.3 727.9,822.4 716.7,818.7C705.5,815 692.8,809.1 688,807.2" fill="none" stroke="#5e4d48" stroke-width="30" filter="url(#sh5)"/>
</g>
<path d="M672.6,731.4C675.8,731.5 685.7,731.4 691.8,732C697.9,732.6 706.2,734.7 709.1,735.3" fill="none" stroke="#1c1210" stroke-width="3.2" stroke-linecap="round"/>
<path d="M673.6,753.5C676.3,753.6 684.8,753.6 689.9,754.4C695,755.2 701.9,757.6 704.3,758.3" fill="none" stroke="#1c1210" stroke-width="3.2" stroke-linecap="round"/>
<path d="M670.7,778.4C673.6,778.7 682.4,779.2 688,780.3C693.6,781.5 701.6,784.3 704.3,785.1" fill="none" stroke="#1c1210" stroke-width="3.2" stroke-linecap="round"/>
<path d="M776,481C776.3,485.3 779.2,498.7 778,507C776.8,515.3 770.5,527 769,531" fill="none" stroke="#6b7f93" stroke-width="3.2" stroke-linecap="round"/>
<path d="M802,538.5C799.5,542.1 793.5,553.9 787,560C780.5,566.1 767,572.5 763,575" fill="none" stroke="#6b7f93" stroke-width="3.2" stroke-linecap="round"/>
<path d="M346,551.4C345.2,552.7 343.2,556.6 341,559C338.8,561.4 334.3,564.8 333,566" fill="none" stroke="#6b7f93" stroke-width="3.2" stroke-linecap="round"/>
<path d="M359,570C356.7,571 350.2,574.7 345,576C339.8,577.3 330.8,577.7 328,578" fill="none" stroke="#6b7f93" stroke-width="3.2" stroke-linecap="round"/>
<path d="M429,608.6C434.8,615.7 450.2,638.1 464,651C477.8,663.9 504,680.2 512,686" fill="none" stroke="#6b7f93" stroke-width="3.2" stroke-linecap="round"/>
<path d="M536,827.5C541.7,833.2 557.7,849.1 570,862C582.3,874.9 597.2,889.2 610,905C622.8,920.8 640.4,948.3 646.5,957" fill="none" stroke="#6b7f93" stroke-width="3.2" stroke-linecap="round"/>
<path d="M495,868C499.2,875 511.7,898 520,910C528.3,922 536.7,930.3 545,940C553.3,949.7 562.8,960.7 570,968C577.2,975.3 585,981.3 588,984" fill="none" stroke="#6b7f93" stroke-width="3.2" stroke-linecap="round"/>
<path d="M382,888C385.3,893.7 395,910.5 402,922C409,933.5 416.8,946.5 424,957C431.2,967.5 438.3,977.7 445,985C451.7,992.3 460.8,998.3 464,1001" fill="none" stroke="#6b7f93" stroke-width="3.2" stroke-linecap="round"/>
<path d="M498.9,205.3C497.2,204.7 492.2,200.9 488.6,201.5C485,202.1 480,204.8 477.3,208.9C474.7,212.9 472.9,219.9 472.6,226C472.3,232 473.5,239.5 475.6,245.2C477.6,250.8 481.4,256.3 485,259.9C488.7,263.5 493.1,266.1 497.4,266.7C501.7,267.4 508.7,264.3 511,263.8L511,263.8C510.8,260.9 510,252.2 510.1,246.6C510.2,241.1 511.3,233.1 511.6,230.4L511.6,230.4C510.5,228.2 506.9,221.3 504.8,217.1C502.7,212.9 499.9,207.3 498.9,205.3Z" fill="#fbe0d1" stroke="#1c1210" stroke-width="3.2" stroke-linejoin="round"/>
<path d="M501,223C498.9,223.6 492,224.7 488.6,226.6C485.1,228.4 480,231.6 480.3,234.2C480.5,236.9 486.1,240 490,242.2C494,244.4 501.6,246.6 503.9,247.5" fill="none" stroke="#1c1210" stroke-width="2.6" stroke-linecap="round"/>
<path d="M502.4,228.9C502.1,229.7 500.2,231.8 500.4,233.4C500.5,234.9 502.8,237.5 503.3,238.4" fill="none" stroke="#1c1210" stroke-width="2.6" stroke-linecap="round"/>
<path d="M529.9,159.6C528.7,164.2 524.6,178 522.5,187.6C520.4,197.2 518.6,207.3 517.2,217.1C515.8,227 514.5,236.8 513.9,246.6C513.4,256.5 511.7,267.8 513.7,276.2C515.6,284.5 521.3,290.9 525.5,296.8C529.6,302.7 533.3,306.2 538.7,311.6C544.2,317 551.5,323.9 557.9,329.3C564.3,334.7 571.2,340.3 577.1,344.1C583,347.8 588.2,350.3 593.4,352C598.5,353.8 603.7,354.7 608.1,354.4C612.5,354 615.7,352.9 619.9,350C624.1,347 629,341.6 633.2,336.7C637.4,331.8 641.1,326.6 645,320.4C649,314.3 653.4,307.2 656.8,299.8C660.3,292.4 663.1,284.5 665.7,276.2C668.2,267.8 670.2,258.5 672.2,249.6C674.1,240.7 675.7,231.4 677.5,223C679.3,214.7 681.1,206.3 682.8,199.4C684.5,192.5 686.2,187.6 687.8,181.7C689.4,175.8 691.5,166.9 692.3,164L692.3,164C687.8,164.7 675,167.2 665.7,168.4C656.3,169.6 646,170.8 636.2,171.4C626.3,172 618.5,172.4 606.6,172C594.8,171.5 578.1,170.5 565.3,168.4C552.5,166.3 535.8,161 529.9,159.6Z" fill="#fbe0d1" stroke="#1c1210" stroke-width="3.2" stroke-linejoin="round"/>
<path d="M529.9,159.6C535.8,161 552.5,166.3 565.3,168.4C578.1,170.5 594.8,171.5 606.6,172C618.5,172.4 626.3,172 636.2,171.4C646,170.8 656.3,169.6 665.7,168.4C675,167.2 687.8,164.7 692.3,164L692.3,164C692.9,160 696.3,147.5 696.1,140.4C695.8,133.2 693.9,127.6 690.8,121.2C687.7,114.8 683.1,107.7 677.5,102C671.8,96.3 663.7,90.9 656.8,87.2C649.9,83.5 644.5,82.1 636.2,79.9C627.8,77.6 616.5,75.1 606.6,73.9C596.8,72.8 587,72.4 577.1,73.1C567.3,73.7 555.5,75.9 547.6,77.8C539.7,79.7 535.3,81.5 529.9,84.3C524.5,87.1 519.1,91.4 515.1,94.6C511.2,97.8 510.2,100.8 506.3,103.5C502.3,106.2 495.9,107.4 491.5,110.8C487.1,114.3 482.6,119.2 479.7,124.1C476.9,129.1 475.5,133.7 474.4,140.4C473.3,147 473.1,156.1 473.2,164C473.4,171.9 474.4,180.7 475.3,187.6C476.1,194.5 477.7,202.4 478.2,205.3L478.2,205.3C480,204.7 485.1,201.8 488.6,201.8C492,201.8 496.2,202.8 498.9,205.3C501.6,207.9 502.7,212.9 504.8,217.1C506.9,221.3 510.5,228.2 511.6,230.4L511.6,230.4C512.4,227.7 514.8,221.3 516.6,214.2C518.4,207 520.3,196.7 522.5,187.6C524.7,178.5 528.7,164.2 529.9,159.6Z" fill="#42210f" stroke="#1c1210" stroke-width="3.2" stroke-linejoin="round"/>
<g transform="translate(-9.85,-45) scale(0.5) translate(1020,1010) scale(0.21395)"><path d="M330,485C316.7,485.8 276.7,480.8 250,490C223.3,499.2 191.7,518.3 170,540C148.3,561.7 130.3,593.3 120,620C109.7,646.7 107.2,670 108,700C108.8,730 113,766.7 125,800C137,833.3 154.2,866.7 180,900C205.8,933.3 243.3,970.8 280,1000C316.7,1029.2 360,1055 400,1075C440,1095 483.3,1109.2 520,1120C556.7,1130.8 586.7,1138.3 620,1140C653.3,1141.7 690,1138.3 720,1130C750,1121.7 778.3,1111.7 800,1090C821.7,1068.3 837.5,1035 850,1000C862.5,965 870.3,916.7 875,880C879.7,843.3 880.5,813.3 878,780C875.5,746.7 869.7,715 860,680C850.3,645 835,601.7 820,570C805,538.3 786.7,511.7 770,490C753.3,468.3 732.5,450 720,440C707.5,430 699.2,431.7 695,430L695,430C690.8,434.2 677.2,443.3 670,455C662.8,466.7 656.7,486.7 652,500C647.3,513.3 647,527 642,535C637,543 629,548 622,548C615,548 604,543 600,535C596,527 595,516.7 598,500C601,483.3 607.7,455 618,435C628.3,415 643,395.8 660,380C677,364.2 701.7,350 720,340C738.3,330 757.5,328.3 770,320C782.5,311.7 790.8,300.8 795,290C799.2,279.2 799.2,264.7 795,255C790.8,245.3 780.8,235.8 770,232C759.2,228.2 745,228.2 730,232C715,235.8 698.3,245.3 680,255C661.7,264.7 640,275.8 620,290C600,304.2 576.7,321.7 560,340C543.3,358.3 530,381.7 520,400C510,418.3 505,433.3 500,450C495,466.7 494.7,488 490,500C485.3,512 479.2,519.5 472,522C464.8,524.5 452.8,520.3 447,515C441.2,509.7 436.5,504.2 437,490C437.5,475.8 442.8,451.7 450,430C457.2,408.3 466.7,383.3 480,360C493.3,336.7 511.7,310.8 530,290C548.3,269.2 574.2,247.5 590,235C605.8,222.5 619.2,218.3 625,215L625,215L600,185L600,185C603,175.8 616.3,144.2 618,130C619.7,115.8 615.5,107 610,100C604.5,93 593.3,88 585,88C576.7,88 566.7,91.3 560,100C553.3,108.7 548.7,128.7 545,140C541.3,151.3 539.2,163.3 538,168L538,168L530,165L530,165C530.5,157.5 534.7,132.2 533,120C531.3,107.8 526.3,97.3 520,92C513.7,86.7 502.5,86.7 495,88C487.5,89.3 479.2,93 475,100C470.8,107 470.8,116.7 470,130C469.2,143.3 470,171.7 470,180L470,180L455,185L455,185C454.2,177.5 453.3,151.2 450,140C446.7,128.8 441.7,121.7 435,118C428.3,114.3 417.2,115.2 410,118C402.8,120.8 395,127.2 392,135C389,142.8 390.7,154.2 392,165C393.3,175.8 397,188.3 400,200C403,211.7 408.3,229.2 410,235L410,235C405,239.2 389.2,247.5 380,260C370.8,272.5 361.7,290 355,310C348.3,330 343.8,358.3 340,380C336.2,401.7 333.7,422.5 332,440C330.3,457.5 330.3,477.5 330,485ZM163,472C160.8,463.3 156.3,440.3 150,420C143.7,399.7 132.5,370 125,350C117.5,330 107.8,312.5 105,300C102.2,287.5 103.8,281.7 108,275C112.2,268.3 121.3,262.2 130,260C138.7,257.8 150.8,257.8 160,262C169.2,266.2 177.5,275.3 185,285C192.5,294.7 201.7,314.2 205,320L205,320C208.3,312.5 219.2,288.3 225,275C230.8,261.7 232.5,248.3 240,240C247.5,231.7 260,225.8 270,225C280,224.2 293,229.2 300,235C307,240.8 312,247.5 312,260C312,272.5 304.5,291.7 300,310C295.5,328.3 288.7,349.7 285,370C281.3,390.3 279.2,421.7 278,432L278,432C271.7,433.3 253,436.2 240,440C227,443.8 212.8,449.7 200,455C187.2,460.3 169.2,469.2 163,472Z" fill="#c8293a"/></g>
<path d="M504.5,511.1C502.9,513 497,518.3 495.1,522.8C493.2,527.2 492.6,532.6 493.2,537.8C493.8,543.1 497.9,551.4 498.9,554.1" fill="none" stroke="#0e0e12" stroke-width="2.6" stroke-linecap="round"/>
<path d="M510.2,518.4C508.9,519.9 504.2,524.6 502.9,527.8C501.5,531 501.4,534.4 502,537.8C502.6,541.3 505.7,546.7 506.4,548.5" fill="none" stroke="#0e0e12" stroke-width="2.6" stroke-linecap="round"/>
<path d="M601.7,567.3C601.5,569.3 601.7,575.8 600.5,579.2C599.2,582.7 596.8,585.8 594.2,588C591.6,590.2 586.4,591.7 584.8,592.4" fill="none" stroke="#0e0e12" stroke-width="2.6" stroke-linecap="round"/>
<path d="M610.5,565.4C610.3,568.2 610.9,576.9 609.3,581.7C607.6,586.6 604.5,591 600.5,594.3C596.5,597.5 587.9,600 585.4,601.2" fill="none" stroke="#0e0e12" stroke-width="2.6" stroke-linecap="round"/>
<path d="M556.6,584.3C558.7,584.9 564.4,587.7 569.1,588C573.8,588.3 582.2,586.4 584.8,586.1" fill="none" stroke="#7b8a99" stroke-width="2.4" stroke-linecap="round"/>
<path d="M594.2,548.5L600.5,548.5" fill="none" stroke="#7b8a99" stroke-width="2.4" stroke-linecap="round"/>
</g></g>
<g clip-path="url(#belowbox)"><g filter="url(#mansh)">
<path d="M416,1438L426,1480L576.6,1480L569.6,1438Z" fill="url(#legg)"/>
<path d="M416,1438L426,1480L441.5,1480L425,1438Z" fill="#b09a92"/>
<path d="M569.6,1438L603,1438L597.6,1458C596,1462 594,1463 593,1463.5C588,1466.5 581,1468.5 574.6,1469Z" fill="#8a8d92" stroke="#1c1210" stroke-width="3"/>
<path d="M416,1438L426,1480" stroke="#1c1210" stroke-width="3.2"/>
<path d="M425,1438L441.5,1480" stroke="#1c1210" stroke-width="3.2"/>
<path d="M569.6,1438L576.6,1480" stroke="#1c1210" stroke-width="3.2"/>
</g></g>
<g clip-path="url(#boxclip)">
<rect x="50" y="1005" width="925" height="445" fill="#ffffff"/>
<path d="M250,960L255,1000L262,1034L299,1136L340,1238L374,1340L398,1425L412,1480L560,1480L560,960Z" fill="url(#silg)" filter="url(#b20)"/>
<path d="M450,960L686,960L684,1000L680,1034L652.5,1136L639,1238L625,1340L615,1425L610,1480L450,1480Z" fill="url(#silg)" filter="url(#b10)"/>
<path d="M440,960H662L650,1135H440Z" fill="url(#tintg)" filter="url(#b20)"/>
</g>
<rect x="57" y="1013" width="907" height="427" rx="70" fill="none" stroke="#203864" stroke-width="2"/>
<path d="M474,1235H510.4V1210.6L558.8,1264.6L510.4,1318.7V1295H474Z" fill="url(#teal)"/>
<rect x="81.5" y="1156" width="27.5" height="24" rx="4.5" fill="#e9eef4" stroke="#a7b8ca" stroke-width="3"/>
<path d="M82,1156L88.5,1151.5L95.5,1163L109.5,1142.5L114.5,1146L94.5,1176Z" fill="#0a0a0a"/>
<rect x="573.5" y="1156" width="27" height="24" rx="4.5" fill="#f4f8fb" stroke="#bfd6ea" stroke-width="3"/>
<path d="M572.5,1155L578,1151L586.5,1162L602,1141.5L606.8,1145L586,1173Z" fill="#1798a8"/>
<rect x="81.5" y="1251.7" width="27.5" height="24" rx="4.5" fill="#e9eef4" stroke="#a7b8ca" stroke-width="3"/>
<path d="M82,1251.7L88.5,1247.2L95.5,1258.7L109.5,1238.2L114.5,1241.7L94.5,1271.7Z" fill="#0a0a0a"/>
<rect x="573.5" y="1251.7" width="27" height="24" rx="4.5" fill="#f4f8fb" stroke="#bfd6ea" stroke-width="3"/>
<path d="M572.5,1250.7L578,1246.7L586.5,1257.7L602,1237.2L606.8,1240.7L586,1268.7Z" fill="#1798a8"/>
<rect x="81.5" y="1347.6" width="27.5" height="24" rx="4.5" fill="#e9eef4" stroke="#a7b8ca" stroke-width="3"/>
<path d="M82,1347.6L88.5,1343.1L95.5,1354.6L109.5,1334.1L114.5,1337.6L94.5,1367.6Z" fill="#0a0a0a"/>
<rect x="573.5" y="1347.6" width="27" height="24" rx="4.5" fill="#f4f8fb" stroke="#bfd6ea" stroke-width="3"/>
<path d="M572.5,1346.6L578,1342.6L586.5,1353.6L602,1333.1L606.8,1336.6L586,1364.6Z" fill="#1798a8"/>
<text x="143.3" y="1098.2" font-size="45.4" font-family="Liberation Sans, Arial, sans-serif" fill="#000" font-weight="bold">Conventional</text>
<text x="654" y="1097.7" font-size="45.4" font-family="Liberation Sans, Arial, sans-serif" fill="#000" font-weight="bold">This work</text>
<text x="137.5" y="1184" font-size="45.4" font-family="Liberation Sans, Arial, sans-serif" fill="#000" >Cuff</text>
<text x="137.5" y="1280" font-size="45.4" font-family="Liberation Sans, Arial, sans-serif" fill="#000" >Non-continuous</text>
<text x="137" y="1375.5" font-size="45.4" font-family="Liberation Sans, Arial, sans-serif" fill="#000" >Rigid electronics</text>
<text x="627" y="1184.5" font-size="45.4" font-family="Liberation Sans, Arial, sans-serif" fill="#000" >Cuffless</text>
<text x="627" y="1280" font-size="45.4" font-family="Liberation Sans, Arial, sans-serif" fill="#000" >Continuous</text>
<text x="627" y="1375.7" font-size="45.4" font-family="Liberation Sans, Arial, sans-serif" fill="#000" >Skin electronics</text>
<g transform="translate(1020,1010) scale(0.21395)"><path d="M330,485C316.7,485.8 276.7,480.8 250,490C223.3,499.2 191.7,518.3 170,540C148.3,561.7 130.3,593.3 120,620C109.7,646.7 107.2,670 108,700C108.8,730 113,766.7 125,800C137,833.3 154.2,866.7 180,900C205.8,933.3 243.3,970.8 280,1000C316.7,1029.2 360,1055 400,1075C440,1095 483.3,1109.2 520,1120C556.7,1130.8 586.7,1138.3 620,1140C653.3,1141.7 690,1138.3 720,1130C750,1121.7 778.3,1111.7 800,1090C821.7,1068.3 837.5,1035 850,1000C862.5,965 870.3,916.7 875,880C879.7,843.3 880.5,813.3 878,780C875.5,746.7 869.7,715 860,680C850.3,645 835,601.7 820,570C805,538.3 786.7,511.7 770,490C753.3,468.3 732.5,450 720,440C707.5,430 699.2,431.7 695,430L695,430C690.8,434.2 677.2,443.3 670,455C662.8,466.7 656.7,486.7 652,500C647.3,513.3 647,527 642,535C637,543 629,548 622,548C615,548 604,543 600,535C596,527 595,516.7 598,500C601,483.3 607.7,455 618,435C628.3,415 643,395.8 660,380C677,364.2 701.7,350 720,340C738.3,330 757.5,328.3 770,320C782.5,311.7 790.8,300.8 795,290C799.2,279.2 799.2,264.7 795,255C790.8,245.3 780.8,235.8 770,232C759.2,228.2 745,228.2 730,232C715,235.8 698.3,245.3 680,255C661.7,264.7 640,275.8 620,290C600,304.2 576.7,321.7 560,340C543.3,358.3 530,381.7 520,400C510,418.3 505,433.3 500,450C495,466.7 494.7,488 490,500C485.3,512 479.2,519.5 472,522C464.8,524.5 452.8,520.3 447,515C441.2,509.7 436.5,504.2 437,490C437.5,475.8 442.8,451.7 450,430C457.2,408.3 466.7,383.3 480,360C493.3,336.7 511.7,310.8 530,290C548.3,269.2 574.2,247.5 590,235C605.8,222.5 619.2,218.3 625,215L625,215L600,185L600,185C603,175.8 616.3,144.2 618,130C619.7,115.8 615.5,107 610,100C604.5,93 593.3,88 585,88C576.7,88 566.7,91.3 560,100C553.3,108.7 548.7,128.7 545,140C541.3,151.3 539.2,163.3 538,168L538,168L530,165L530,165C530.5,157.5 534.7,132.2 533,120C531.3,107.8 526.3,97.3 520,92C513.7,86.7 502.5,86.7 495,88C487.5,89.3 479.2,93 475,100C470.8,107 470.8,116.7 470,130C469.2,143.3 470,171.7 470,180L470,180L455,185L455,185C454.2,177.5 453.3,151.2 450,140C446.7,128.8 441.7,121.7 435,118C428.3,114.3 417.2,115.2 410,118C402.8,120.8 395,127.2 392,135C389,142.8 390.7,154.2 392,165C393.3,175.8 397,188.3 400,200C403,211.7 408.3,229.2 410,235L410,235C405,239.2 389.2,247.5 380,260C370.8,272.5 361.7,290 355,310C348.3,330 343.8,358.3 340,380C336.2,401.7 333.7,422.5 332,440C330.3,457.5 330.3,477.5 330,485ZM163,472C160.8,463.3 156.3,440.3 150,420C143.7,399.7 132.5,370 125,350C117.5,330 107.8,312.5 105,300C102.2,287.5 103.8,281.7 108,275C112.2,268.3 121.3,262.2 130,260C138.7,257.8 150.8,257.8 160,262C169.2,266.2 177.5,275.3 185,285C192.5,294.7 201.7,314.2 205,320L205,320C208.3,312.5 219.2,288.3 225,275C230.8,261.7 232.5,248.3 240,240C247.5,231.7 260,225.8 270,225C280,224.2 293,229.2 300,235C307,240.8 312,247.5 312,260C312,272.5 304.5,291.7 300,310C295.5,328.3 288.7,349.7 285,370C281.3,390.3 279.2,421.7 278,432L278,432C271.7,433.3 253,436.2 240,440C227,443.8 212.8,449.7 200,455C187.2,460.3 169.2,469.2 163,472Z" fill="#c52d3c"/></g>
<g transform="translate(1020,1010) scale(0.21395)"><path d="M985,487A341.6,341.6 0 0 1 987,968M1100,385A479.6,479.6 0 0 1 1105,1078M1220,268A660.3,660.3 0 0 1 1230,1205" fill="none" stroke="#c52d3c" stroke-width="23.5" stroke-linecap="round"/></g>
<path d="M1357,1121.3H1392.5V1105.8L1425,1137.3L1392.5,1168.8V1153.3H1357Z" fill="url(#ba1)" />
<path d="M1878.3,1121.3H1913.8V1105.8L1946.3,1137.3L1913.8,1168.8V1153.3H1878.3Z" fill="url(#ba2)" />
<path d="M2417.7,1121.3H2453.2V1105.8L2485.7,1137.3L2453.2,1168.8V1153.3H2417.7Z" fill="url(#ba3)" />
<path d="M1454.4,1091.8L1834.8,1091.8L1834.8,1321.6L1459.1,1321.6Z" fill="url(#mpink)"/>
<path d="M1453,1083.4C1454,1075.9 1457.1,1051.1 1459.1,1038.5C1461.2,1025.9 1464.3,1012.8 1465.3,1007.7L1465.3,1007.7C1465.9,1006.6 1466.5,1002.8 1469,1001.2C1471.4,999.6 1464.3,998.9 1480.2,998.1C1496.1,997.3 1536.2,996.8 1564.3,996.4C1592.3,996.1 1620.3,995.9 1648.4,995.9C1676.4,995.9 1704.5,996.1 1732.5,996.4C1760.5,996.8 1800.9,997.1 1816.6,997.8C1832.2,998.6 1824,999.5 1826.4,1001.2C1828.8,1002.9 1830.4,1007.1 1831.2,1008.2L1831.2,1008.2C1831.9,1013.3 1834.1,1026 1835.7,1038.5C1837.2,1051 1839.9,1075.9 1840.7,1083.4L1840.7,1083.4C1840,1084.1 1838.8,1086.7 1836.2,1087.8C1833.6,1089 1856.3,1089.6 1825,1090.1C1793.7,1090.5 1707.3,1090.6 1648.4,1090.6C1589.5,1090.6 1503.3,1090.5 1471.8,1090.1C1440.2,1089.7 1462.3,1089.5 1459.1,1088.4C1456,1087.3 1454,1084.2 1453,1083.4Z" fill="#fdebe4" transform="translate(0,7.5)"/>
<path d="M1453,1083.4C1454,1075.9 1457.1,1051.1 1459.1,1038.5C1461.2,1025.9 1464.3,1012.8 1465.3,1007.7L1465.3,1007.7C1465.9,1006.6 1466.5,1002.8 1469,1001.2C1471.4,999.6 1464.3,998.9 1480.2,998.1C1496.1,997.3 1536.2,996.8 1564.3,996.4C1592.3,996.1 1620.3,995.9 1648.4,995.9C1676.4,995.9 1704.5,996.1 1732.5,996.4C1760.5,996.8 1800.9,997.1 1816.6,997.8C1832.2,998.6 1824,999.5 1826.4,1001.2C1828.8,1002.9 1830.4,1007.1 1831.2,1008.2L1831.2,1008.2C1831.9,1013.3 1834.1,1026 1835.7,1038.5C1837.2,1051 1839.9,1075.9 1840.7,1083.4L1840.7,1083.4C1840,1084.1 1838.8,1086.7 1836.2,1087.8C1833.6,1089 1856.3,1089.6 1825,1090.1C1793.7,1090.5 1707.3,1090.6 1648.4,1090.6C1589.5,1090.6 1503.3,1090.5 1471.8,1090.1C1440.2,1089.7 1462.3,1089.5 1459.1,1088.4C1456,1087.3 1454,1084.2 1453,1083.4Z" fill="#fde3d8"/>
<path d="M1561.5,1018.9L1561.5,1009.3L1767.5,1009.3L1767.5,1035.7L1835.7,1035.7" fill="none" stroke="#ffff00" stroke-width="3" stroke-linejoin="miter"/>
<path d="M1710.1,1066.5L1710.1,1072.7L1750.7,1072.7L1750.7,1044.1L1835.7,1044.1" fill="none" stroke="#ffff00" stroke-width="3" stroke-linejoin="miter"/>
<path d="M1541.9,1017.5L1578.9,1017.5L1573.2,1067.9L1534,1067.9Z" fill="#ffff00"/>
<path d="M1693.8,1017.5L1730.2,1017.5L1731.9,1067.9L1691.8,1067.9Z" fill="#ffff00"/>
<path d="M1835.7,1049.2L1767.5,1049.7L1771.7,1076.3L1595.7,1076.3L1603,1020.3C1603.5,1015.5 1605.2,1014.7 1608.6,1014.7L1619.8,1014.7C1623.7,1014.7 1624.8,1016.1 1624.3,1020.3L1617.5,1063.7C1617,1067.9 1618.9,1069.3 1623.2,1069.3L1633,1069.3C1636.6,1069.3 1638,1067.4 1638.3,1063.7L1641.4,1020.3C1641.7,1016.1 1643.3,1014.7 1647,1014.7L1657.4,1014.7C1661.3,1014.7 1662.4,1016.1 1662.1,1020.3L1659.6,1063.7C1659.3,1067.9 1661.3,1069.3 1664.6,1069.3L1672.2,1069.3C1675.9,1069.3 1677,1067.4 1677.3,1063.7L1679.8,1013.3L1750.7,1013.3L1747.9,1039.6L1835.7,1039.9" fill="none" stroke="#7f7f7f" stroke-width="2.6" stroke-linejoin="miter"/>
<path d="M1588.1,1134.5Q1631.6,1099.5 1675.1,1134.5" fill="none" stroke="#ffd83a" stroke-width="2.2" stroke-linecap="round"/>
<path d="M1598.6,1146.4Q1631.6,1118.4 1664.6,1146.4" fill="none" stroke="#ffd83a" stroke-width="2.2" stroke-linecap="round"/>
<path d="M1609.6,1157.6Q1631.6,1138 1653.6,1157.6" fill="none" stroke="#ffd83a" stroke-width="2.2" stroke-linecap="round"/>
<path d="M1463,1183H1657V1173.2L1678,1192.7L1657,1212.2V1202.5H1463Z" fill="#ffe640" opacity="0.7" filter="url(#b4)"/>
<path d="M1463,1183H1657V1173.2L1678,1192.7L1657,1212.2V1202.5H1463Z" fill="#ffff00" filter="url(#b05)"/>
<path d="M1463,1167.5H1521.6V1159.2L1539.6,1177L1521.6,1194.8V1186.5H1463Z" fill="url(#mred1)" filter="url(#b1)"/>
<path d="M1988.4,1091.8L2368.8,1091.8L2368.8,1321.6L1993.1,1321.6Z" fill="url(#mpink)"/>
<path d="M1987,1083.4C1988,1075.9 1991.1,1051.1 1993.1,1038.5C1995.2,1025.9 1998.3,1012.8 1999.3,1007.7L1999.3,1007.7C1999.9,1006.6 2000.5,1002.8 2003,1001.2C2005.4,999.6 1998.3,998.9 2014.2,998.1C2030.1,997.3 2070.2,996.8 2098.3,996.4C2126.3,996.1 2154.3,995.9 2182.4,995.9C2210.4,995.9 2238.5,996.1 2266.5,996.4C2294.5,996.8 2334.9,997.1 2350.6,997.8C2366.2,998.6 2358,999.5 2360.4,1001.2C2362.8,1002.9 2364.4,1007.1 2365.2,1008.2L2365.2,1008.2C2365.9,1013.3 2368.1,1026 2369.7,1038.5C2371.2,1051 2373.9,1075.9 2374.7,1083.4L2374.7,1083.4C2374,1084.1 2372.8,1086.7 2370.2,1087.8C2367.6,1089 2390.3,1089.6 2359,1090.1C2327.7,1090.5 2241.3,1090.6 2182.4,1090.6C2123.5,1090.6 2037.3,1090.5 2005.8,1090.1C1974.2,1089.7 1996.3,1089.5 1993.1,1088.4C1990,1087.3 1988,1084.2 1987,1083.4Z" fill="#fdebe4" transform="translate(0,7.5)"/>
<path d="M1987,1083.4C1988,1075.9 1991.1,1051.1 1993.1,1038.5C1995.2,1025.9 1998.3,1012.8 1999.3,1007.7L1999.3,1007.7C1999.9,1006.6 2000.5,1002.8 2003,1001.2C2005.4,999.6 1998.3,998.9 2014.2,998.1C2030.1,997.3 2070.2,996.8 2098.3,996.4C2126.3,996.1 2154.3,995.9 2182.4,995.9C2210.4,995.9 2238.5,996.1 2266.5,996.4C2294.5,996.8 2334.9,997.1 2350.6,997.8C2366.2,998.6 2358,999.5 2360.4,1001.2C2362.8,1002.9 2364.4,1007.1 2365.2,1008.2L2365.2,1008.2C2365.9,1013.3 2368.1,1026 2369.7,1038.5C2371.2,1051 2373.9,1075.9 2374.7,1083.4L2374.7,1083.4C2374,1084.1 2372.8,1086.7 2370.2,1087.8C2367.6,1089 2390.3,1089.6 2359,1090.1C2327.7,1090.5 2241.3,1090.6 2182.4,1090.6C2123.5,1090.6 2037.3,1090.5 2005.8,1090.1C1974.2,1089.7 1996.3,1089.5 1993.1,1088.4C1990,1087.3 1988,1084.2 1987,1083.4Z" fill="#fde3d8"/>
<path d="M2099.5,1018.9L2099.5,1009.3L2305.5,1009.3L2305.5,1035.7L2373.7,1035.7" fill="none" stroke="#7f7f7f" stroke-width="3" stroke-linejoin="miter"/>
<path d="M2248.1,1066.5L2248.1,1072.7L2288.7,1072.7L2288.7,1044.1L2373.7,1044.1" fill="none" stroke="#7f7f7f" stroke-width="3" stroke-linejoin="miter"/>
<path d="M2079.9,1017.5L2116.9,1017.5L2111.2,1067.9L2072,1067.9Z" fill="#7f7f7f"/>
<path d="M2231.8,1017.5L2268.2,1017.5L2269.9,1067.9L2229.8,1067.9Z" fill="#7f7f7f"/>
<path d="M2373.7,1049.2L2305.5,1049.7L2309.7,1076.3L2133.7,1076.3L2141,1020.3C2141.5,1015.5 2143.2,1014.7 2146.6,1014.7L2157.8,1014.7C2161.7,1014.7 2162.8,1016.1 2162.3,1020.3L2155.5,1063.7C2155,1067.9 2156.9,1069.3 2161.2,1069.3L2171,1069.3C2174.6,1069.3 2176,1067.4 2176.3,1063.7L2179.4,1020.3C2179.7,1016.1 2181.3,1014.7 2185,1014.7L2195.4,1014.7C2199.3,1014.7 2200.4,1016.1 2200.1,1020.3L2197.6,1063.7C2197.3,1067.9 2199.3,1069.3 2202.6,1069.3L2210.2,1069.3C2213.9,1069.3 2215,1067.4 2215.3,1063.7L2217.8,1013.3L2288.7,1013.3L2285.9,1039.6L2373.7,1039.9" fill="none" stroke="#c8283a" stroke-width="2.6" stroke-linejoin="miter"/>
<path d="M2126,1134.5Q2169.5,1099.5 2213,1134.5" fill="none" stroke="#c52d3c" stroke-width="2.2" stroke-linecap="round"/>
<path d="M2136.5,1146.4Q2169.5,1118.4 2202.5,1146.4" fill="none" stroke="#c52d3c" stroke-width="2.2" stroke-linecap="round"/>
<path d="M2147.5,1157.6Q2169.5,1138 2191.5,1157.6" fill="none" stroke="#c52d3c" stroke-width="2.2" stroke-linecap="round"/>
<path d="M1997,1197.8H2342V1187.5L2363,1207.5L2342,1227.5V1217.2H1997Z" fill="#ffe640" opacity="0.7" filter="url(#b4)"/>
<path d="M1997,1197.8H2342V1187.5L2363,1207.5L2342,1227.5V1217.2H1997Z" fill="#ffff00" filter="url(#b05)"/>
<path d="M1997,1184.2H2193.7V1175.5L2212.7,1193.5L2193.7,1211.5V1202.8H1997Z" fill="url(#mred2)" filter="url(#b1)"/>
<rect x="2530.5" y="879.5" width="252.5" height="452" rx="31" fill="#6f6f6f"/>
<rect x="2532" y="881" width="249.5" height="449" rx="30" fill="#0b0b0b"/>
<rect x="2536.2" y="885" width="241" height="441" rx="26" fill="#f3f3f3"/>
<rect x="2549" y="937.3" width="218" height="91.2" rx="8" fill="#ffffff"/>
<rect x="2549" y="1035" width="218" height="91.6" rx="8" fill="#ffffff"/>
<rect x="2549" y="1131" width="218" height="93" rx="8" fill="#ffffff"/>
<rect x="2549" y="1230" width="218" height="42.7" rx="8" fill="#ffffff"/>
<rect x="2549" y="1280.7" width="218" height="37.2" rx="8" fill="#ffffff"/>
<rect x="2557.5" y="961.6" width="200.2" height="60.4" rx="9" fill="#fff" stroke="#8f8f8f" stroke-width="2"/>
<rect x="2557.5" y="1058.6" width="200.2" height="59.1" rx="9" fill="#fff" stroke="#8f8f8f" stroke-width="2"/>
<rect x="2557.5" y="1155.3" width="200.2" height="58.9" rx="9" fill="#fff" stroke="#8f8f8f" stroke-width="2"/>
<text x="2553.6" y="903.6" font-size="11.3" font-family="Liberation Sans, Arial, sans-serif" fill="#1a1a1a" >10:10</text>
<text x="2548.3" y="928.4" font-size="19" font-family="Liberation Sans, Arial, sans-serif" fill="#1a1a1a" >Health Monitor</text>
<text x="2559.3" y="954" font-size="14.8" font-family="Liberation Sans, Arial, sans-serif" fill="#1a1a1a" >ECG</text>
<text x="2559.3" y="1051" font-size="14.8" font-family="Liberation Sans, Arial, sans-serif" fill="#1a1a1a" letter-spacing="0.25">Blood pulse</text>
<text x="2559.3" y="1146.4" font-size="14.8" font-family="Liberation Sans, Arial, sans-serif" fill="#1a1a1a" letter-spacing="0.3">Blood pressure</text>
<text x="2567.5" y="1176.5" font-size="11.6" font-family="Liberation Sans, Arial, sans-serif" fill="#1a1a1a" letter-spacing="-0.6">SBP</text>
<text x="2567.5" y="1200.6" font-size="11.6" font-family="Liberation Sans, Arial, sans-serif" fill="#1a1a1a" letter-spacing="-0.6">DBP</text>
<text x="2594.4" y="1305" font-size="18.6" font-family="Liberation Sans, Arial, sans-serif" fill="#1a1a1a" letter-spacing="0.35">00:11:56</text>
<circle cx="2654.6" cy="894" r="5" fill="#0b0b0b"/>
<circle cx="2753.8" cy="921.6" r="0.9" fill="#333"/>
<circle cx="2753.8" cy="924.8" r="0.9" fill="#333"/>
<circle cx="2753.8" cy="928" r="0.9" fill="#333"/>
<circle cx="2696.5" cy="900.8" r="3.6" fill="none" stroke="#111" stroke-width="1.3"/>
<path d="M2696.5,898.6V901H2698.3M2692.3,897L2694.3,895.6M2700.7,897L2698.7,895.6" stroke="#111" stroke-width="1.2" fill="none"/>
<path d="M2707.5,898.7H2710L2715.5,895V905.5L2710,902H2707.5Z" fill="#111"/>
<path d="M2720.8,898.3C2724.5,894.5 2731,894.5 2734.6,898.3L2727.7,905.6Z" fill="#111"/>
<rect x="2736.2" y="903" width="1.7" height="2" fill="#111"/>
<rect x="2739" y="901" width="1.7" height="4" fill="#111"/>
<rect x="2741.8" y="898.5" width="1.7" height="6.5" fill="#111"/>
<rect x="2744.6" y="896" width="1.7" height="9" fill="#111"/>
<rect x="2754.6" y="896.3" width="6.2" height="9" rx="1" fill="#111"/><rect x="2756.4" y="894.9" width="2.6" height="2" fill="#111"/>
<g transform="translate(2520,870) scale(0.17712)"><path d="M260,745C270,733 285,723 300,737 L325,748 L335,770 L351,625 L363,791 L375,747 L395,743 C415,715 435,715 455,735 C475,753 495,753 515,745 C527,733 542,723 557,737 L582,748 L592,770 L608,625 L620,791 L632,747 L652,743 C672,715 692,715 712,735 C732,753 752,753 772,745 C783,733 798,723 813,737 L838,748 L848,770 L864,625 L876,791 L888,747 L908,743 C928,715 948,715 968,735 C988,753 1008,753 1028,745 C1040,733 1055,723 1070,737 L1095,748 L1105,770 L1121,625 L1133,791 L1145,747 L1165,743 C1185,715 1205,715 1225,735 C1245,753 1265,753 1285,745 L1290,745" fill="none" stroke="#f0760f" stroke-width="12.5" stroke-linejoin="round" stroke-linecap="round"/></g>
<path d="M2566.4,1094.1C2568.2,1095.4 2575,1105.2 2578.4,1102.9C2581.8,1100.7 2585.9,1080.1 2589.1,1079C2592.3,1077.9 2597.3,1094 2599.7,1095.8C2602.1,1097.7 2601.3,1090.5 2605,1091.4C2608.7,1092.3 2620.2,1104.3 2624.5,1102C2628.7,1099.8 2630.4,1077.8 2633.4,1076.3C2636.3,1074.9 2641.9,1090.3 2644,1092.3C2646.1,1094.3 2644.1,1088 2647.5,1089.6C2651,1091.2 2663,1104.4 2667,1102.9C2671,1101.4 2671.2,1080.8 2674.1,1079.9C2677,1079 2683.7,1095 2686.5,1096.7C2689.3,1098.4 2689.5,1090.5 2692.7,1091.4C2695.9,1092.3 2704.2,1104.9 2707.7,1102.9C2711.3,1100.9 2713.3,1079.3 2716.2,1078.1C2719.2,1076.9 2724.8,1093.1 2727.2,1094.9C2729.7,1096.8 2729.4,1089.3 2732.5,1090.5C2735.7,1091.7 2746.1,1101 2748.5,1102.9" fill="none" stroke="#c8283a" stroke-width="2.2" stroke-linejoin="round" stroke-linecap="round"/>
<path d="M2596.5,1171.7C2599.1,1172 2622.6,1174.6 2628,1174.4C2633.5,1174.2 2657.3,1169.4 2661.7,1169.4C2666,1169.5 2676.1,1175.1 2680.3,1175.3C2684.5,1175.4 2706.8,1171.5 2712.2,1171.4C2717.6,1171.3 2742.2,1173.8 2744.9,1174" fill="none" stroke="#dc4048" stroke-width="2.3" stroke-linejoin="round" stroke-linecap="round"/>
<path d="M2596.5,1196C2599.2,1196.3 2623.6,1199.2 2628.9,1199.2C2634.2,1199.1 2655.6,1195.4 2659.9,1195.3C2664.2,1195.2 2675.7,1198.3 2680.3,1198.3C2684.9,1198.3 2709.3,1195.7 2714.8,1195.6C2720.4,1195.6 2744.4,1197.3 2747.1,1197.4" fill="none" stroke="#2a3fd0" stroke-width="2.3" stroke-linejoin="round" stroke-linecap="round"/>
<circle cx="2568.7" cy="1249.7" r="14" fill="#f3f3f3"/>
<circle cx="2613.5" cy="1249.7" r="14" fill="#f3f3f3"/>
<circle cx="2656.7" cy="1249.7" r="14" fill="#f3f3f3"/>
<circle cx="2701.5" cy="1249.7" r="14" fill="#f3f3f3"/>
<circle cx="2745" cy="1249.7" r="14" fill="#f3f3f3"/>
<circle cx="2569.5" cy="1241.2" r="2" fill="#111"/>
<path d="M2569.0,1244.7L2567.7,1251.2L2563.2,1258.7M2567.7,1251.2L2571.2,1253.7L2571.7,1258.7M2569.0,1245.2L2564.7,1248.2M2569.0,1245.2L2573.7,1249.2" stroke="#111" stroke-width="2.1" stroke-linecap="round" stroke-linejoin="round" fill="none"/>
<circle cx="2616.5" cy="1241.4" r="2" fill="#111"/>
<path d="M2615.0,1244.7L2612.0,1250.7L2609.5,1254.2L2605.0,1254.2M2612.0,1250.7L2616.0,1253.2L2616.0,1258.7M2615.0,1244.7L2610.5,1245.2L2608.0,1248.7M2615.0,1245.2L2620.0,1246.2" stroke="#111" stroke-width="2.1" stroke-linecap="round" stroke-linejoin="round" fill="none"/>
<circle cx="2650.5" cy="1255.2" r="3" fill="none" stroke="#111" stroke-width="1.4"/>
<circle cx="2662.8999999999996" cy="1255.2" r="3" fill="none" stroke="#111" stroke-width="1.4"/>
<circle cx="2659.5" cy="1242.1000000000001" r="1.9" fill="#111"/>
<path d="M2657.2,1244.7L2653.2,1248.7L2657.2,1251.7L2657.2,1256.2M2657.2,1244.7L2659.7,1247.7L2663.2,1247.7" stroke="#111" stroke-width="2.1" stroke-linecap="round" stroke-linejoin="round" fill="none"/>
<circle cx="2701.5" cy="1245.2" r="2.3" fill="#111"/>
<path d="M2692.5,1241.5H2710.5M2694.0,1239.9V1243.1000000000001M2709.0,1239.9V1243.1000000000001" stroke="#111" stroke-width="1.6" fill="none"/>
<path d="M2695.5,1242.2L2698.5,1248.7L2704.5,1248.7L2707.5,1242.2M2699.3,1248.7V1253.2M2703.7,1248.7V1253.2M2699.3,1253.2L2696.5,1257.7M2703.7,1253.2L2706.5,1257.7" stroke="#111" stroke-width="2.6" stroke-linecap="round" stroke-linejoin="round" fill="none"/>
<path d="M2742.5,1245.4H2751" stroke="#111" stroke-width="1.7"/>
<rect x="2739" y="1244.6" width="1.7" height="1.7" fill="#111"/>
<path d="M2742.5,1249.7H2751" stroke="#111" stroke-width="1.7"/>
<rect x="2739" y="1248.9" width="1.7" height="1.7" fill="#111"/>
<path d="M2742.5,1254H2751" stroke="#111" stroke-width="1.7"/>
<rect x="2739" y="1253.2" width="1.7" height="1.7" fill="#111"/>
<circle cx="2567.5" cy="1299.8" r="7.8" fill="none" stroke="#111" stroke-width="1.8"/>
<path d="M2565,1289.5H2570M2567.5,1289.5V1292M2574,1292.5L2575.5,1294M2567.5,1294.5V1300L2570.5,1303" stroke="#111" stroke-width="1.5" fill="none" stroke-linecap="round"/>
<text x="1794" y="83" font-size="42" font-family="Liberation Sans, Arial, sans-serif" text-anchor="start" fill="#000" >Bioelectrical sensor</text>
<text x="2231.5" y="83" font-size="42" font-family="Liberation Sans, Arial, sans-serif" text-anchor="start" fill="#000" >Biophysical sensor</text>
<text x="1411.5" y="246.7" font-size="42" font-family="Liberation Sans, Arial, sans-serif" text-anchor="middle" fill="#000" >Wearable, stretchable,</text>
<text x="1411" y="297" font-size="42" font-family="Liberation Sans, Arial, sans-serif" text-anchor="middle" fill="#000" >durable skin electronics</text>
<text x="1009.5" y="470.6" font-size="42" font-family="Liberation Sans, Arial, sans-serif" text-anchor="start" fill="#000" >Heart-originated biophysical signal (slow)</text>
<text x="1013.5" y="641" font-size="42" font-family="Liberation Sans, Arial, sans-serif" text-anchor="start" fill="#000" >Heart-originated bioelectrical signal (fast)</text>
<text x="2117" y="505.8" font-size="42" font-family="Liberation Sans, Arial, sans-serif" text-anchor="middle" fill="#000" >Arrival time</text>
<text x="2117.5" y="553.7" font-size="42" font-family="Liberation Sans, Arial, sans-serif" text-anchor="middle" fill="#000" >difference Δt</text>
<text x="2602" y="601" font-size="42" font-family="Liberation Sans, Arial, sans-serif" text-anchor="middle" font-weight="bold" fill="#000" >Continuous blood</text>
<text x="2603" y="650.6" font-size="42" font-family="Liberation Sans, Arial, sans-serif" text-anchor="middle" font-weight="bold" fill="#000" >pressure monitoring</text>
<text x="2583.4" y="807" font-size="42" font-family="Liberation Sans, Arial, sans-serif" text-anchor="start" fill="#000" >One’s wrist</text>
<text x="1038.5" y="962.5" font-size="42" font-family="Liberation Sans, Arial, sans-serif" text-anchor="start" fill="#000" >@ t = t<tspan font-size="27" dy="9">0</tspan></text>
<text x="1576" y="962.5" font-size="42" font-family="Liberation Sans, Arial, sans-serif" text-anchor="start" fill="#000" >@ t = t<tspan font-size="27" dy="9">1</tspan></text>
<text x="2074" y="962.5" font-size="42" font-family="Liberation Sans, Arial, sans-serif" text-anchor="start" fill="#000" >@ t = t<tspan font-size="27" dy="9">1</tspan><tspan dy="-9">+ Δt</tspan></text>
<text x="1181.8" y="1385.5" font-size="42" font-family="Liberation Sans, Arial, sans-serif" text-anchor="middle" fill="#000" >Signal</text>
<text x="1181.8" y="1436.5" font-size="42" font-family="Liberation Sans, Arial, sans-serif" text-anchor="middle" fill="#000" >generation</text>
<text x="1651" y="1385.5" font-size="42" font-family="Liberation Sans, Arial, sans-serif" text-anchor="middle" fill="#000" >Bioelectrical signal</text>
<text x="1651" y="1436.5" font-size="42" font-family="Liberation Sans, Arial, sans-serif" text-anchor="middle" fill="#000" >acquisition</text>
<text x="2180" y="1385.5" font-size="42" font-family="Liberation Sans, Arial, sans-serif" text-anchor="middle" fill="#000" >Biophysical signal</text>
<text x="2180" y="1436.5" font-size="42" font-family="Liberation Sans, Arial, sans-serif" text-anchor="middle" fill="#000" >acquisition</text>
<text x="2657.8" y="1385.5" font-size="42" font-family="Liberation Sans, Arial, sans-serif" text-anchor="middle" fill="#000" >Continuous blood</text>
<text x="2657.8" y="1436.5" font-size="42" font-family="Liberation Sans, Arial, sans-serif" text-anchor="middle" fill="#000" >pressure monitoring</text>
<text x="200.8" y="988.5" font-size="53" font-family="Liberation Sans, Arial, sans-serif" fill="#fff" stroke="#fff" stroke-width="8" stroke-linejoin="round" filter="url(#glow)">Blood pressure monitoring</text>
<text x="200.8" y="988.5" font-size="53" font-family="Liberation Sans, Arial, sans-serif" text-anchor="start" fill="#000" >Blood pressure monitoring</text>
</svg></body></html>
